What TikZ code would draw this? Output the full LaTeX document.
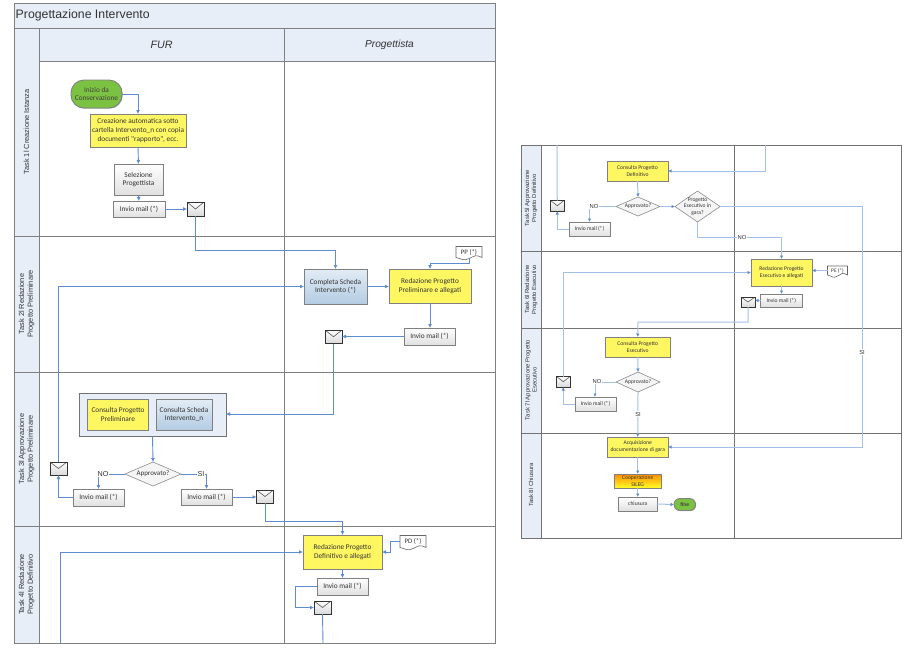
\documentclass[tikz,border=0pt]{standalone}
\usepackage{fontspec}
\setmainfont{Liberation Sans}
\newfontfamily\boxfont{Carlito}
\usetikzlibrary{arrows.meta,calc,shadows}
\definecolor{lanegray}{HTML}{808080}
\definecolor{headfill}{HTML}{E7EEF8}
\definecolor{linkblue}{HTML}{5F8CCF}
\definecolor{linklight}{HTML}{A3C0E8}
\definecolor{txt}{HTML}{333333}
\definecolor{bluetop}{HTML}{E2ECF6}
\definecolor{bluebot}{HTML}{B4CCE3}
\definecolor{startgreen}{HTML}{7CC242}
\tikzset{
  x=1pt,y=-1pt,
  lane/.style={draw=lanegray,line width=1pt},
  thinlane/.style={draw=lanegray!90!black,line width=.7pt},
  headcell/.style={lane,fill=headfill},
  thincell/.style={thinlane,fill=headfill},
  tasklabel/.style={rotate=90,align=center,font=\fontsize{7.4}{8.8}\selectfont,text=txt,inner sep=0pt},
  tasklabelb/.style={tasklabel,font=\fontsize{5.9}{7}\selectfont},
  basebox/.style={draw=lanegray,line width=.9pt,align=center,inner sep=0pt,outer sep=0pt,text=txt,
    font=\boxfont\fontsize{7.3}{8.8}\selectfont,
    drop shadow={shadow xshift=.7pt,shadow yshift=-.7pt,fill=black,opacity=.3}},
  yellowbox/.style={basebox,fill=yellow!62!white},
  whitebox/.style={basebox,top color=white,bottom color=black!12},
  bluebox/.style={basebox,top color=bluetop,bottom color=bluebot},
  startbox/.style={basebox,rounded corners=13pt,fill=startgreen,text=black!75},
  orangebox/.style={basebox,top color=orange!90!yellow,bottom color=yellow!85!white},
  groupbox/.style={draw=black!55,line width=1pt,fill=headfill,inner sep=0pt,outer sep=0pt},
  decision/.style={draw=black!45,line width=.6pt,fill=black!4,inner sep=0pt,outer sep=0pt},
  envelope/.style={draw=black!80,line width=.9pt,top color=white,bottom color=black!15,inner sep=0pt,outer sep=0pt,
    path picture={\draw[black!65,line width=.6pt] (path picture bounding box.north west) -- (path picture bounding box.center) -- (path picture bounding box.north east);}},
  docnode/.style={inner sep=0pt,outer sep=0pt,text=txt,font=\boxfont\fontsize{6.8}{8}\selectfont},
  docline/.style={draw=black!60,line width=.6pt,fill=white},
  link/.style={draw=linkblue,line width=.9pt},
  linkarrow/.style={link,-{Latex[length=4pt,width=4pt]}},
  farlink/.style={draw=linklight,line width=1pt},
  fararrow/.style={farlink,-{Latex[length=3.5pt,width=3.5pt,color=linkblue]}},
  linklabel/.style={fill=white,inner sep=.6pt,text=txt,font=\fontsize{7.2}{8}\selectfont},
  farlabel/.style={linklabel,font=\fontsize{5.8}{7}\selectfont},
  small/.style={font=\boxfont\fontsize{5.6}{7}\selectfont},
  dianote/.style={font=\boxfont\fontsize{7}{8}\selectfont},
  dianoteb/.style={font=\boxfont\fontsize{5.6}{6.4}\selectfont},
}
\newcommand{\bx}[7]{\node[#2,minimum width={(#5-#3)*1pt},minimum height={(#6-#4)*1pt}] (#1) at ({(#3+#5)/2},{(#4+#6)/2}) {#7};}
\newcommand{\dia}[7]{\path[decision] ({#3},{(#4+#6)/2}) -- ({(#3+#5)/2},{#4}) -- ({#5},{(#4+#6)/2}) -- ({(#3+#5)/2},{#6}) -- cycle;
  \node[#2,inner sep=0pt,outer sep=0pt,minimum width={(#5-#3)*1pt},minimum height={(#6-#4)*1pt},align=center,text=txt] (#1) at ({(#3+#5)/2},{(#4+#6)/2}) {#7};}
\newcommand{\docwave}[1]{\path[docline] (#1.north west) -- (#1.north east) -- (#1.south east)
  .. controls +(-7,-3) and +(7,-3) .. ($(#1.south)+(0,1)$) .. controls +(-5,3) and +(5,1) .. (#1.south west) -- cycle;}
\begin{document}
\begin{tikzpicture}
\useasboundingbox (0,0) rectangle (917,654);
\fill[white] (0,0) rectangle (917,654);

% ---- left pool
\path[headcell] (14,3) rectangle (495,28);
\node[anchor=west,inner sep=0pt,font=\fontsize{12.3}{14}\selectfont,text=txt] (title) at (15.5,15.5) {Progettazione Intervento};
\path[lane,fill=white] (14,28) rectangle (495,643);
\path[headcell] (14,28) rectangle (39,643);
\path[headcell] (39,28) rectangle (284,61);
\path[headcell] (284,28) rectangle (495,61);
\draw[lane] (284,61) -- (284,643);
\draw[lane] (14,236) -- (495,236);
\draw[lane] (14,372) -- (495,372);
\draw[lane] (14,526) -- (495,526);
\node[font=\itshape\fontsize{10.7}{13}\selectfont,text=txt] (fur) at (161.5,44.5) {FUR};
\node[font=\itshape\fontsize{10.2}{13}\selectfont,text=txt] (prog) at (389.5,44.5) {Progettista};
\node[tasklabel] (t1) at (26.5,132) {Task 1l Creazione Istanza};
\node[tasklabel] (t2) at (26.5,304) {Task 2l Redazione\\Progetto Preliminare};
\node[tasklabel] (t3) at (26.5,449) {Task 3l Approvazione\\Progetto Preliminare};
\node[tasklabel] (t4) at (26.5,584.5) {Task 4l Redazione\\Progetto Definitivo};

% ---- right pool
\path[thinlane,fill=white] (521,145) rectangle (901,538);
\path[thincell] (521,145) rectangle (541,538);
\draw[thinlane] (734,145) -- (734,538);
\draw[thinlane] (521,251) -- (901,251);
\draw[thinlane] (521,328) -- (901,328);
\draw[thinlane] (521,433) -- (901,433);
\node[tasklabelb] (t5) at (531,198) {Task 5l Approvazione\\Progetto Definitivo};
\node[tasklabelb] (t6) at (531,289.5) {Task 6l Redazione\\Progetto Esecutivo};
\node[tasklabelb] (t7) at (531,380) {Task 7l Approvazione Progetto\\Esecutivo};
\node[tasklabelb] (t8) at (531,485) {Task 8l Chiusura};

% ---- left nodes (placed first so connectors can refer to them)
\bx{inizio}{startbox}{71}{80}{122}{108}{Inizio da\\Conservazione}
\bx{creaz}{yellowbox}{90}{114}{186}{147}{Creazione automatica sotto\\cartella Intervento\_n con copia\\documenti "rapporto", ecc.}
\bx{selez}{whitebox}{114}{164}{163}{195}{Selezione\\Progettista}
\bx{mailA}{whitebox}{113}{201}{165}{217}{Invio mail (*)}
\bx{envA}{envelope}{187}{202}{204}{216}{}
\bx{compl}{bluebox}{304}{269}{367}{304}{Completa Scheda\\Intervento (*)}
\bx{redPP}{yellowbox}{389}{269}{471}{303}{Redazione Progetto\\Preliminare e allegati}
\node[docnode,minimum width=26pt,minimum height=11pt] (docPP) at (469,252) {};
\docwave{docPP}
\node[docnode] at (docPP) {PP (*)};
\bx{mailB}{whitebox}{404}{328}{455}{345}{Invio mail (*)}
\bx{envB}{envelope}{325}{330}{342}{343.5}{}
\bx{group}{groupbox}{79}{393}{226}{436}{}
\bx{consPP}{yellowbox}{87.5}{399}{148.5}{430}{Consulta Progetto\\Preliminare}
\bx{consSI}{bluebox}{156}{399}{212}{430}{Consulta Scheda\\Intervento\_n}
\dia{appA}{dianote}{125}{462}{181}{486}{Approvato?}
\bx{mailC}{whitebox}{73}{489}{124}{506}{Invio mail (*)}
\bx{envC}{envelope}{50}{462}{67}{475}{}
\bx{mailD}{whitebox}{181}{489}{232}{505}{Invio mail (*)}
\bx{envD}{envelope}{256.5}{490}{273.5}{503}{}
\bx{redPD}{yellowbox}{303}{535}{382}{569}{Redazione Progetto\\Definitivo e allegati}
\node[docnode,minimum width=26pt,minimum height=12pt] (docPD) at (413,541.5) {};
\docwave{docPD}
\node[docnode] at (docPD) {PD (*)};
\bx{mailE}{whitebox}{317}{578}{368}{595}{Invio mail (*)}
\bx{envE}{envelope}{314}{601}{331}{614}{}
\coordinate (endL) at (60,643);
\coordinate (endE) at (323,643);

% ---- right nodes
\coordinate (topR) at (765,145);
\coordinate (topL) at (557,145);
\bx{consPD}{yellowbox,small}{607}{161}{668}{181}{Consulta Progetto\\Definitivo}
\dia{appB}{dianoteb}{616}{197}{660}{216}{Approvato?}
\dia{gara}{dianoteb}{675}{191}{720}{222}{Progetto\\Esecutivo in\\gara?}
\bx{mailF}{whitebox,small}{569}{222}{610}{236}{Invio mail (*)}
\bx{envF}{envelope}{550.5}{200.5}{564}{211}{}
\bx{redPE}{yellowbox,small}{751}{259}{812}{286}{Redazione Progetto\\Esecutivo e allegati}
\node[docnode,minimum width=20pt,minimum height=9pt,font=\boxfont\fontsize{5.4}{7}\selectfont] (docPE) at (837.5,270.5) {};
\docwave{docPE}
\node[docnode,font=\boxfont\fontsize{5.4}{7}\selectfont] at (docPE) {PE (*)};
\bx{mailG}{whitebox,small}{760.5}{294}{802}{307}{Invio mail (*)}
\bx{envG}{envelope}{741}{297}{755}{307}{}
\bx{consPE}{yellowbox,small}{605.5}{337}{670}{357}{Consulta Progetto\\Esecutivo}
\dia{appC}{dianoteb}{616}{372}{660}{392}{Approvato?}
\bx{mailH}{whitebox,small}{575}{397}{616}{411}{Invio mail (*)}
\bx{envH}{envelope}{556.5}{376.5}{570}{387}{}
\bx{acq}{yellowbox,small}{607.5}{437}{668}{457}{Acquisizione\\documentazione di gara}
\bx{coop}{orangebox,small}{614.5}{474}{661}{488}{Cooperazione\\SILEG}
\bx{chius}{whitebox,small}{618.5}{497}{657}{511}{chiusura}
\bx{fine}{startbox,small,rounded corners=6pt}{674}{498.5}{695.5}{510.5}{\textbf{fine}}

% ---- left connectors
\draw[linkarrow] (inizio.east) -| (creaz.north);
\draw[linkarrow] (creaz.south) -- (selez.north);
\draw[linkarrow] (selez.south) -- (mailA.north);
\draw[linkarrow] (mailA.east) -- (mailA.east -| envA.west);
\draw[linkarrow] (envA.south) -- ++(0,34) -| (compl.north);
\draw[linkarrow] (compl.east) -- (compl.east -| redPP.west);
\draw[linkarrow] (docPP.south) ++(0,1) -- ++(0,5) -| (redPP.north);
\draw[linkarrow] (redPP.south) -- (redPP.south |- mailB.north);
\draw[linkarrow] (mailB.west) -- (mailB.west -| envB.east);
\draw[linkarrow] (envB.south) -- ++(0,70.5) -- (group.east |- 0,414);
\draw[linkarrow] (group.south) -- (appA.north);
\draw[link] (appA.west) -- (98.5,474);
\draw[linkarrow] (98.5,474) -- (98.5,489);
\draw[link] (appA.east) -- (206.5,474);
\draw[linkarrow] (206.5,474) -- (206.5,489);
\node[linklabel] (lblNoA) at (103,474) {NO};
\node[linklabel] (lblSiA) at (201,474) {SI};
\draw[linkarrow] (mailC.west) -| (envC.south);
\draw[linkarrow] (envC.north) -- (envC.north |- compl.west) -- (compl.west);
\draw[linkarrow] (mailD.east) -- (mailD.east -| envD.west);
\draw[linkarrow] (envD.south) |- (342.5,521.5) -- (redPD.north);
\draw[linkarrow] (docPD.west) -- ++(-10,0) |- (redPD.east);
\draw[linkarrow] (redPD.south) -- (redPD.south |- mailE.north);
\draw[linkarrow] (mailE.west) -- ++(-22,0) |- (envE.west);
\draw[link] (envE.south) -- (endE);
\draw[linkarrow] (endL) |- (redPD.west);

% ---- right connectors
\draw[fararrow] (topR) |- (consPD.east);
\draw[fararrow] (consPD.south) -- (appB.north);
\draw[fararrow] (appB.east) -- (gara.west);
\draw[farlink] (appB.west) -- (589.5,206.5);
\draw[fararrow] (589.5,206.5) -- (mailF.north -| 589.5,0);
\node[farlabel] (lblNoB) at (594,206) {NO};
\draw[fararrow] (mailF.west) -| (envF.south);
\draw[farlink] (envF.north) -- (topL);
\draw[fararrow] (gara.east) -- (862,206.5) |- (acq.east);
\node[farlabel] (lblSiB) at (862,352) {SI};
\draw[fararrow] (gara.south) |- (781.5,237) -- (redPE.north);
\node[farlabel] (lblNoC) at (742,237) {NO};
\draw[fararrow] (docPE.west) -- (docPE.west -| redPE.east);
\draw[fararrow] (redPE.south) -- (redPE.south |- mailG.north);
\draw[fararrow] (mailG.west) -- (mailG.west -| envG.east);
\draw[fararrow] (envG.south) |- (638,322) -- (consPE.north);
\draw[fararrow] (consPE.south) -- (appC.north);
\draw[farlink] (appC.west) -- (595,382);
\draw[fararrow] (595,382) -- (595,397);
\node[farlabel] (lblNoD) at (597,381.5) {NO};
\draw[fararrow] (mailH.west) -| (envH.south);
\draw[fararrow] (envH.north) |- (redPE.west);
\draw[fararrow] (appC.south) -- (acq.north);
\node[farlabel] (lblSiC) at (638,414) {SI};
\draw[fararrow] (acq.south) -- (coop.north);
\draw[fararrow] (coop.south) -- (chius.north);
\draw[fararrow] (chius.east) -- (fine.west);
\end{tikzpicture}
\end{document}
